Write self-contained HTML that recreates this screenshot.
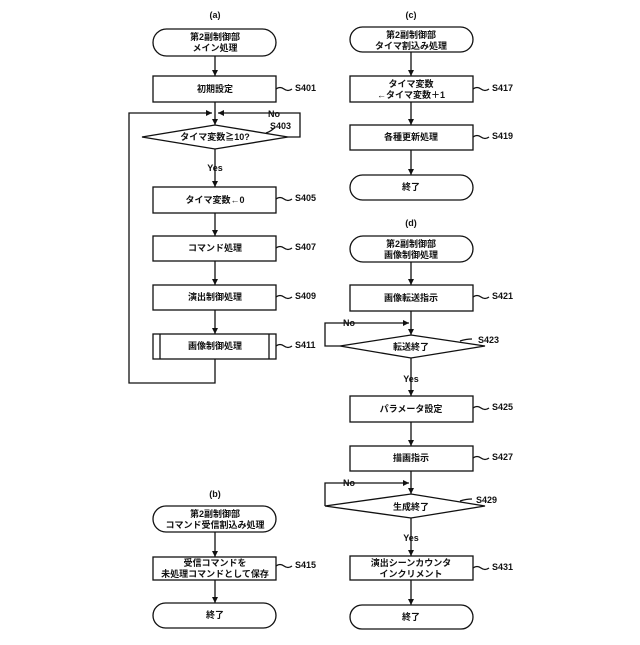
<!DOCTYPE html>
<html><head><meta charset="utf-8"><style>
html,body{margin:0;padding:0;background:#fff;}
svg text{font-family:"Liberation Sans","Noto Sans CJK JP",sans-serif;font-size:9px;font-weight:bold;fill:#111;}
</style></head><body>
<svg width="640" height="640" viewBox="0 0 640 640" xmlns="http://www.w3.org/2000/svg">
<defs><marker id="a" markerWidth="8" markerHeight="8" refX="6" refY="3" orient="auto" markerUnits="userSpaceOnUse"><path d="M0,0 L6,3 L0,6 z" fill="#111"/></marker></defs>
<g stroke="#111" stroke-width="1.3" fill="none">
<!-- (a) -->
<rect x="153" y="29" width="123" height="27" rx="13.5"/>
<rect x="153" y="76" width="123" height="26"/>
<polygon points="142,137 215,125 288,137 215,149"/>
<rect x="153" y="187" width="123" height="26"/>
<rect x="153" y="236" width="123" height="25"/>
<rect x="153" y="285" width="123" height="25"/>
<rect x="153" y="334" width="123" height="25"/>
<line x1="160" y1="334" x2="160" y2="359"/><line x1="269" y1="334" x2="269" y2="359"/>
<line x1="215" y1="56" x2="215" y2="76" marker-end="url(#a)"/>
<line x1="215" y1="102" x2="215" y2="125" marker-end="url(#a)"/>
<polyline points="215,359 215,383 129,383 129,113 212,113" marker-end="url(#a)"/>
<polyline points="288,137 300,137 300,113 218,113" marker-end="url(#a)"/>
<line x1="215" y1="149" x2="215" y2="187" marker-end="url(#a)"/>
<line x1="215" y1="213" x2="215" y2="236" marker-end="url(#a)"/>
<line x1="215" y1="261" x2="215" y2="285" marker-end="url(#a)"/>
<line x1="215" y1="310" x2="215" y2="334" marker-end="url(#a)"/>
<path d="M276,89 q4,-3 8,0 t8,0"/><path d="M276,199 q4,-3 8,0 t8,0"/><path d="M276,248 q4,-3 8,0 t8,0"/><path d="M276,297 q4,-3 8,0 t8,0"/><path d="M276,346 q4,-3 8,0 t8,0"/>
<path d="M266,133 q6,-2 9,-6"/>
<!-- (b) -->
<rect x="153" y="506" width="123" height="26" rx="13"/>
<rect x="153" y="557" width="123" height="23"/>
<rect x="153" y="603" width="123" height="25" rx="12.5"/>
<line x1="215" y1="532" x2="215" y2="557" marker-end="url(#a)"/>
<line x1="215" y1="580" x2="215" y2="603" marker-end="url(#a)"/>
<path d="M276,566 q4,-3 8,0 t8,0"/>
<!-- (c) -->
<rect x="350" y="27" width="123" height="25" rx="12.5"/>
<rect x="350" y="76" width="123" height="26"/>
<rect x="350" y="125" width="123" height="25"/>
<rect x="350" y="175" width="123" height="25" rx="12.5"/>
<line x1="411" y1="52" x2="411" y2="76" marker-end="url(#a)"/>
<line x1="411" y1="102" x2="411" y2="125" marker-end="url(#a)"/>
<line x1="411" y1="150" x2="411" y2="175" marker-end="url(#a)"/>
<path d="M473,89 q4,-3 8,0 t8,0"/><path d="M473,137 q4,-3 8,0 t8,0"/>
<!-- (d) -->
<rect x="350" y="236" width="123" height="26" rx="13"/>
<rect x="350" y="285" width="123" height="26"/>
<polygon points="340,346 411,335 485,346 411,358"/>
<rect x="350" y="396" width="123" height="26"/>
<rect x="350" y="446" width="123" height="25"/>
<polygon points="325,506 411,494 485,506 411,518"/>
<rect x="350" y="556" width="123" height="24"/>
<rect x="350" y="605" width="123" height="24" rx="12"/>
<line x1="411" y1="262" x2="411" y2="285" marker-end="url(#a)"/>
<line x1="411" y1="311" x2="411" y2="335" marker-end="url(#a)"/>
<polyline points="340,346 325,346 325,323 409,323" marker-end="url(#a)"/>
<line x1="411" y1="358" x2="411" y2="396" marker-end="url(#a)"/>
<line x1="411" y1="422" x2="411" y2="446" marker-end="url(#a)"/>
<line x1="411" y1="471" x2="411" y2="494" marker-end="url(#a)"/>
<polyline points="325,506 325,483 409,483" marker-end="url(#a)"/>
<line x1="411" y1="518" x2="411" y2="556" marker-end="url(#a)"/>
<line x1="411" y1="580" x2="411" y2="605" marker-end="url(#a)"/>
<path d="M473,297 q4,-3 8,0 t8,0"/><path d="M473,408 q4,-3 8,0 t8,0"/><path d="M473,458 q4,-3 8,0 t8,0"/><path d="M473,568 q4,-3 8,0 t8,0"/>
<path d="M460,341 q6,-2 12,-2"/><path d="M460,501 q6,-2 12,-2"/>
</g>
<g text-anchor="middle">
<text x="215" y="18">(a)</text>
<text x="215" y="40">第2副制御部</text><text x="215" y="51">メイン処理</text>
<text x="215" y="92">初期設定</text>
<text x="215" y="140">タイマ変数≧10?</text>
<text x="215" y="171">Yes</text>
<text x="215" y="203">タイマ変数←0</text>
<text x="215" y="251">コマンド処理</text>
<text x="215" y="300">演出制御処理</text>
<text x="215" y="349">画像制御処理</text>
<text x="215" y="497">(b)</text>
<text x="215" y="517">第2副制御部</text><text x="215" y="528">コマンド受信割込み処理</text>
<text x="215" y="566">受信コマンドを</text><text x="215" y="577">未処理コマンドとして保存</text>
<text x="215" y="618">終了</text>
<text x="411" y="18">(c)</text>
<text x="411" y="38">第2副制御部</text><text x="411" y="49">タイマ割込み処理</text>
<text x="411" y="87">タイマ変数</text><text x="411" y="98">←タイマ変数＋1</text>
<text x="411" y="140">各種更新処理</text>
<text x="411" y="190">終了</text>
<text x="411" y="226">(d)</text>
<text x="411" y="247">第2副制御部</text><text x="411" y="258">画像制御処理</text>
<text x="411" y="301">画像転送指示</text>
<text x="411" y="350">転送終了</text>
<text x="411" y="382">Yes</text>
<text x="411" y="412">パラメータ設定</text>
<text x="411" y="461">描画指示</text>
<text x="411" y="510">生成終了</text>
<text x="411" y="541">Yes</text>
<text x="411" y="566">演出シーンカウンタ</text><text x="411" y="577">インクリメント</text>
<text x="411" y="620">終了</text>
</g>
<g>
<text x="295" y="91">S401</text><text x="268" y="117">No</text><text x="270" y="129">S403</text>
<text x="295" y="201">S405</text><text x="295" y="250">S407</text><text x="295" y="299">S409</text><text x="295" y="348">S411</text>
<text x="295" y="568">S415</text>
<text x="492" y="91">S417</text><text x="492" y="139">S419</text>
<text x="492" y="299">S421</text><text x="343" y="326">No</text><text x="478" y="343">S423</text>
<text x="492" y="410">S425</text><text x="492" y="460">S427</text>
<text x="343" y="486">No</text><text x="476" y="503">S429</text>
<text x="492" y="570">S431</text>
</g>
</svg>
</body></html>
